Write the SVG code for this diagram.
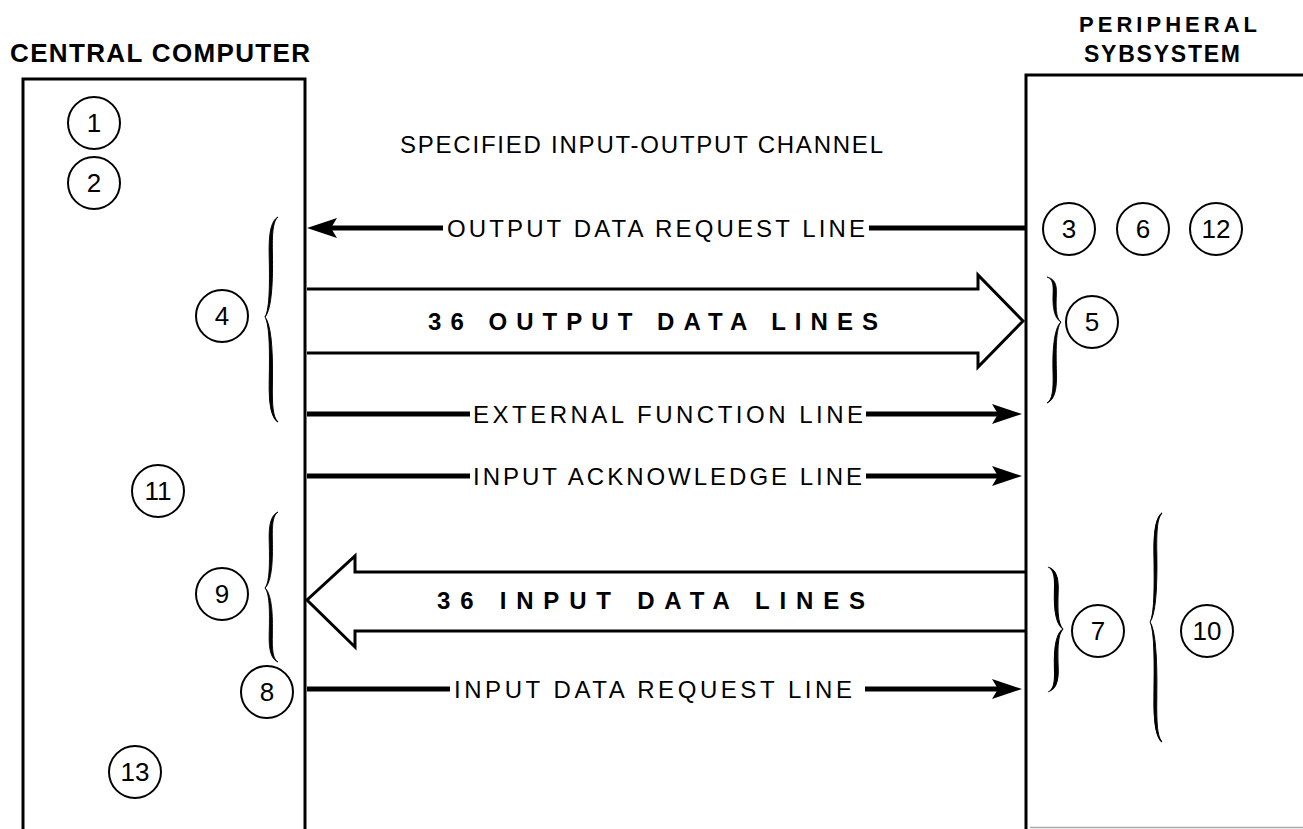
<svg xmlns="http://www.w3.org/2000/svg" xmlns:xlink="http://www.w3.org/1999/xlink" width="1303" height="829" viewBox="0 0 1303 829">
<style>
  .box{fill:none;stroke:#000;stroke-width:3}
  .thick{fill:none;stroke:#000;stroke-width:5}
  .band{fill:none;stroke:#000;stroke-width:3;stroke-linejoin:miter}
  .circ{fill:#fff;stroke:#000;stroke-width:2}
  .num{font-family:"Liberation Sans",Arial,sans-serif;font-size:26px;text-anchor:middle;fill:#000}
  .lbl{font-family:"Liberation Sans",Arial,sans-serif;font-size:24px;fill:#000}
  .big{font-family:"Liberation Sans",Arial,sans-serif;font-size:24px;font-weight:bold;fill:#000}
  .hdr{font-family:"Liberation Sans",Arial,sans-serif;font-weight:bold;fill:#000}
  .brace{fill:#000;stroke:#000;stroke-width:1}
</style>
<defs>
  <path id="ah" d="M0,0 L-30,-10 L-24,0 L-30,10 Z"/>
  <path id="hb" d="M14,-100 C6,-96 4,-82 4.5,-62 C5,-38 5.5,-8 0,0 C7.5,-8 8.5,-38 8,-62 C7.5,-84 8.5,-96 14,-100 Z"/>
</defs>
<rect x="0" y="0" width="1303" height="829" fill="#fff"/>

<g id="central-computer">
  <text class="hdr" x="10" y="62" font-size="26" textLength="300" lengthAdjust="spacing">CENTRAL COMPUTER</text>
  <path class="box" d="M23,829 V79 H305 V829"/>
</g>
<g id="peripheral-subsystem">
  <text class="hdr" x="1079" y="32" font-size="22" textLength="178" lengthAdjust="spacing">PERIPHERAL</text>
  <text class="hdr" x="1084" y="62" font-size="23" textLength="156" lengthAdjust="spacing">SYBSYSTEM</text>
  <path class="box" d="M1303,75 H1026 V829"/>
  <path d="M1030,827.5 H1303" stroke="#aaa" stroke-width="1.5" fill="none"/>
</g>
<g id="channel-title">
  <text class="lbl" x="400" y="153" textLength="483" lengthAdjust="spacing">SPECIFIED INPUT-OUTPUT CHANNEL</text>
</g>

<g id="connectors">
  <!-- Output data request line -->
  <path class="thick" d="M330,228 H443 M869,228 H1026"/>
  <use xlink:href="#ah" transform="translate(307,228) scale(-1,1)"/>
  <text class="lbl" x="447" y="237" textLength="418" lengthAdjust="spacing">OUTPUT DATA REQUEST LINE</text>
  <!-- 36 output data lines -->
  <path class="band" d="M307,289 H978 V275 L1023,321 L978,367 V353 H307"/>
  <text class="big" x="428" y="330" textLength="450" lengthAdjust="spacing">36 OUTPUT DATA LINES</text>
  <!-- External function line -->
  <path class="thick" d="M307,414 H470 M866,414 H1000"/>
  <use xlink:href="#ah" transform="translate(1022,414)"/>
  <text class="lbl" x="473" y="423" textLength="390" lengthAdjust="spacing">EXTERNAL FUNCTION LINE</text>
  <!-- Input acknowledge line -->
  <path class="thick" d="M307,476 H470 M866,476 H1000"/>
  <use xlink:href="#ah" transform="translate(1022,476)"/>
  <text class="lbl" x="473" y="485" textLength="389" lengthAdjust="spacing">INPUT ACKNOWLEDGE LINE</text>
  <!-- 36 input data lines -->
  <path class="band" d="M1026,572 H355 V556 L307,600 L355,647 V631 H1026"/>
  <text class="big" x="437" y="609" textLength="428" lengthAdjust="spacing">36 INPUT DATA LINES</text>
  <!-- Input data request line -->
  <path class="thick" d="M307,689 H450 M865,689 H1000"/>
  <use xlink:href="#ah" transform="translate(1022,689)"/>
  <text class="lbl" x="454" y="698" textLength="398" lengthAdjust="spacing">INPUT DATA REQUEST LINE</text>
</g>

<g id="braces">
  <g id="brace-4">
    <use xlink:href="#hb" class="brace" transform="translate(265,317) scale(0.93,1.0)"/>
    <use xlink:href="#hb" class="brace" transform="translate(265,317) scale(0.93,-1.05)"/>
  </g>
  <g id="brace-9">
    <use xlink:href="#hb" class="brace" transform="translate(265,588) scale(0.93,0.76)"/>
    <use xlink:href="#hb" class="brace" transform="translate(265,588) scale(0.93,-0.74)"/>
  </g>
  <g id="brace-5">
    <use xlink:href="#hb" class="brace" transform="translate(1061,322) scale(-1,0.45)"/>
    <use xlink:href="#hb" class="brace" transform="translate(1061,322) scale(-1,-0.81)"/>
  </g>
  <g id="brace-7">
    <use xlink:href="#hb" class="brace" transform="translate(1063,629) scale(-1.07,0.62)"/>
    <use xlink:href="#hb" class="brace" transform="translate(1063,629) scale(-1.07,-0.63)"/>
  </g>
  <g id="brace-10">
    <use xlink:href="#hb" class="brace" transform="translate(1150,622) scale(0.86,1.09)"/>
    <use xlink:href="#hb" class="brace" transform="translate(1150,622) scale(0.86,-1.2)"/>
  </g>
</g>

<g id="step-1"><circle class="circ" cx="94" cy="123" r="26"/><text class="num" x="94" y="132">1</text></g>
<g id="step-2"><circle class="circ" cx="94" cy="183" r="26"/><text class="num" x="94" y="192">2</text></g>
<g id="step-3"><circle class="circ" cx="1069" cy="229" r="26"/><text class="num" x="1069" y="238">3</text></g>
<g id="step-4"><circle class="circ" cx="222" cy="316" r="26"/><text class="num" x="222" y="325">4</text></g>
<g id="step-5"><circle class="circ" cx="1092" cy="322" r="26"/><text class="num" x="1092" y="331">5</text></g>
<g id="step-6"><circle class="circ" cx="1143" cy="229" r="26"/><text class="num" x="1143" y="238">6</text></g>
<g id="step-7"><circle class="circ" cx="1098" cy="631" r="26"/><text class="num" x="1098" y="640">7</text></g>
<g id="step-8"><circle class="circ" cx="267" cy="692" r="26"/><text class="num" x="267" y="701">8</text></g>
<g id="step-9"><circle class="circ" cx="222" cy="594" r="26"/><text class="num" x="222" y="603">9</text></g>
<g id="step-10"><circle class="circ" cx="1207" cy="631" r="26"/><text class="num" x="1207" y="640">10</text></g>
<g id="step-11"><circle class="circ" cx="158" cy="491" r="26"/><text class="num" x="158" y="500">11</text></g>
<g id="step-12"><circle class="circ" cx="1216" cy="229" r="26"/><text class="num" x="1216" y="238">12</text></g>
<g id="step-13"><circle class="circ" cx="135" cy="772" r="26"/><text class="num" x="135" y="781">13</text></g>
</svg>
